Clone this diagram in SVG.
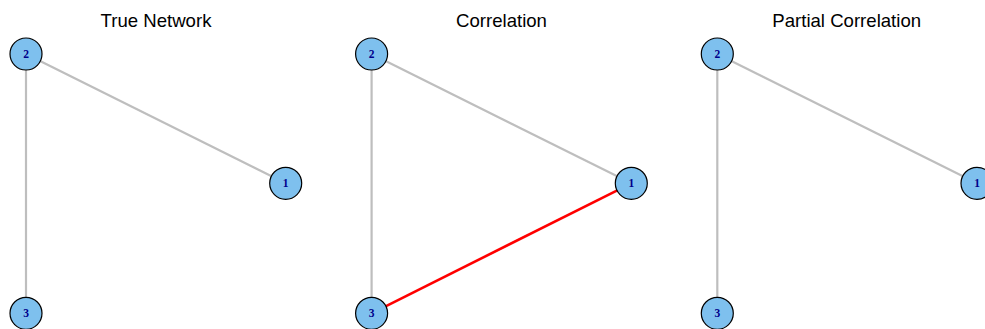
<svg xmlns="http://www.w3.org/2000/svg" width="985" height="329" viewBox="0 0 985 329">
<style>
.title{font-family:"Liberation Sans",Arial,sans-serif;font-size:18.6px;fill:#000;text-anchor:middle}
.node circle{fill:#7EC0EE;stroke:#000;stroke-width:1.2}
.node text{font-family:"Liberation Serif","Times New Roman",serif;font-weight:bold;font-size:11.5px;fill:#00008B;text-anchor:middle}
.e{stroke:#BEBEBE;stroke-width:2.2;fill:none}
.r{stroke:#FF0000;stroke-width:2.6;fill:none}
</style>
<rect width="985" height="329" fill="#fff"/>
<text class="title" x="156" y="27">True Network</text>
<text class="title" x="501.5" y="27">Correlation</text>
<text class="title" x="846.7" y="27">Partial Correlation</text>
<g id="connectors">
<line class="e" x1="26" y1="54" x2="285.7" y2="183.3"/>
<line class="e" x1="26" y1="54" x2="26" y2="313.3"/>
<line class="e" x1="371.6" y1="54" x2="631.3" y2="183.3"/>
<line class="e" x1="371.6" y1="54" x2="371.6" y2="313.3"/>
<line class="r" x1="631.3" y1="183.3" x2="371.6" y2="313.3"/>
<line class="e" x1="717.3" y1="54" x2="977" y2="183.3"/>
<line class="e" x1="717.3" y1="54" x2="717.3" y2="313.3"/>
</g>
<g id="p1n2" class="node"><circle cx="26" cy="54" r="16"/><text x="26" y="57.9">2</text></g>
<g id="p1n1" class="node"><circle cx="285.7" cy="183.3" r="16"/><text x="285.7" y="187.2">1</text></g>
<g id="p1n3" class="node"><circle cx="26" cy="313.3" r="16"/><text x="26" y="317.2">3</text></g>
<g id="p2n2" class="node"><circle cx="371.6" cy="54" r="16"/><text x="371.6" y="57.9">2</text></g>
<g id="p2n1" class="node"><circle cx="631.3" cy="183.3" r="16"/><text x="631.3" y="187.2">1</text></g>
<g id="p2n3" class="node"><circle cx="371.6" cy="313.3" r="16"/><text x="371.6" y="317.2">3</text></g>
<g id="p3n2" class="node"><circle cx="717.3" cy="54" r="16"/><text x="717.3" y="57.9">2</text></g>
<g id="p3n1" class="node"><circle cx="977" cy="183.3" r="16"/><text x="977" y="187.2">1</text></g>
<g id="p3n3" class="node"><circle cx="717.3" cy="313.3" r="16"/><text x="717.3" y="317.2">3</text></g>
</svg>
